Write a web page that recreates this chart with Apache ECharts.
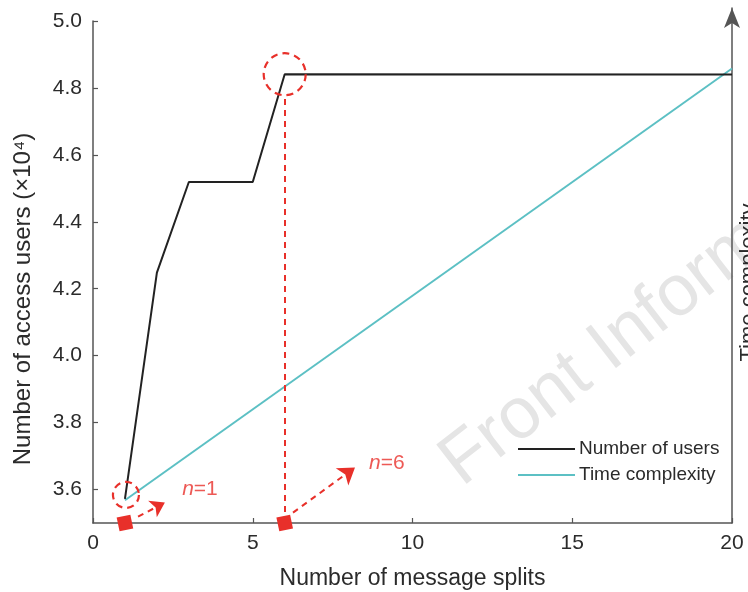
<!DOCTYPE html>
<html>
<head>
<meta charset="utf-8">
<title>Access users vs. message splits</title>
<script src="https://cdn.jsdelivr.net/npm/echarts@6/dist/echarts.min.js"></script>
<style>
  html, body { margin: 0; padding: 0; background: #ffffff; }
  #chart { width: 748px; height: 592px; }
</style>
</head>
<body>
<div id="chart"></div>
<script>
// Number of access users (x10^4) against the number of message splits
const splits = [1, 2, 3, 5, 6, 20];
const accessUsers = [3.572, 4.248, 4.519, 4.519, 4.841, 4.840];

// Time complexity grows linearly with the number of splits (relative units)
const complexitySplits = [1, 20];
const timeComplexity = [1, 20];

// Axis ticks
const xTicks = [0, 5, 10, 15, 20];
const yTicks = [3.6, 3.8, 4.0, 4.2, 4.4, 4.6, 4.8, 5.0];

// Split counts singled out in the figure
const highlighted = [1, 6];

const seriesNames = ['Number of users', 'Time complexity'];

const FONT = '"Liberation Sans", Arial, Helvetica, sans-serif';
const RED = '#e8302a';
const AXIS = '#555555';
const TEXT = '#2b2b2b';
const CYAN = '#5cc0c4';
const Y_MIN = 3.5;

const userAt = n => accessUsers[splits.indexOf(n)];

const chart = echarts.init(document.getElementById('chart'), null, { renderer: 'canvas' });

chart.setOption({
  animation: false,
  backgroundColor: '#ffffff',
  textStyle: { fontFamily: FONT },
  grid: [
    { left: 93, right: 16, top: 21, bottom: 69, containLabel: false, outerBoundsMode: 'none' },
    // the complexity axis rises a little above the plot and ends in an arrow
    { left: 93, right: 16, top: 8, bottom: 69, containLabel: false, outerBoundsMode: 'none' }
  ],
  xAxis: [
    {
      gridIndex: 0, type: 'value', min: xTicks[0], max: xTicks[xTicks.length - 1], interval: 5,
      name: 'Number of message splits', nameLocation: 'middle', nameGap: 44,
      nameTextStyle: { fontSize: 23, color: TEXT, fontFamily: FONT },
      axisLine: { show: true, onZero: false, lineStyle: { color: AXIS, width: 1.5 } },
      axisTick: { show: true, inside: true, length: 5, lineStyle: { color: AXIS, width: 1.2 } },
      axisLabel: { fontSize: 21, color: TEXT, margin: 10, fontFamily: FONT,
                   customValues: xTicks },
      splitLine: { show: false }
    },
    {
      gridIndex: 1, type: 'value', min: xTicks[0], max: xTicks[xTicks.length - 1], show: false
    }
  ],
  yAxis: [
    {
      gridIndex: 0, type: 'value', min: Y_MIN, max: yTicks[yTicks.length - 1],
      name: 'Number of access users (×10⁴)', nameLocation: 'middle', nameGap: 58,
      nameTextStyle: { fontSize: 24, color: TEXT, fontFamily: FONT, padding: [0, 54, 0, 0] },
      axisLine: { show: true, onZero: false, lineStyle: { color: AXIS, width: 1.5 } },
      axisTick: { show: true, inside: true, length: 5, customValues: yTicks,
                  lineStyle: { color: AXIS, width: 1.2 } },
      axisLabel: { fontSize: 21, color: TEXT, margin: 11, fontFamily: FONT,
                   customValues: yTicks, formatter: v => v.toFixed(1) },
      splitLine: { show: false }
    },
    {
      gridIndex: 1, type: 'value', position: 'right', min: 0, max: 22.66,
      name: 'Time complexity', nameLocation: 'middle', nameGap: 6,
      nameTextStyle: { fontSize: 22, color: TEXT, fontFamily: FONT, padding: [0, 34, 0, 0] },
      axisLine: { show: true, onZero: false, symbol: ['none', 'arrow'], symbolSize: [12, 20],
                  lineStyle: { color: AXIS, width: 1.5 } },
      axisTick: { show: false },
      axisLabel: { show: false },
      splitLine: { show: false }
    }
  ],
  legend: {
    data: seriesNames,
    orient: 'vertical',
    left: 518, top: 438, padding: 0,
    icon: 'rect',
    itemWidth: 57, itemHeight: 2, itemGap: 4,
    textStyle: { fontSize: 19, lineHeight: 22, color: TEXT, fontFamily: FONT, padding: [0, 0, 0, -1] }
  },
  graphic: [
    {
      type: 'text', x: 472, y: 500, rotation: 0.66, z: -10, silent: true,
      style: {
        text: 'Front Inform Technol Electron Eng',
        fontSize: 72, fontFamily: FONT, fill: '#e5e5e5',
        verticalAlign: 'bottom', align: 'left'
      }
    }
  ],
  series: [
    {
      name: seriesNames[0], type: 'line', xAxisIndex: 0, yAxisIndex: 0,
      data: splits.map((n, i) => [n, accessUsers[i]]),
      symbol: 'none', lineStyle: { color: '#222222', width: 2 }, itemStyle: { color: '#222222' },
      z: 3
    },
    {
      name: seriesNames[1], type: 'line', xAxisIndex: 1, yAxisIndex: 1,
      data: complexitySplits.map((n, i) => [n, timeComplexity[i]]),
      symbol: 'none', lineStyle: { color: CYAN, width: 2 }, itemStyle: { color: CYAN },
      z: 2
    },
    // dashed rings around the highlighted operating points
    {
      name: 'rings', type: 'scatter', xAxisIndex: 0, yAxisIndex: 0, clip: false, silent: true,
      data: [
        { value: [highlighted[0], userAt(highlighted[0])], symbolSize: 26, symbolOffset: [1, -4] },
        { value: [highlighted[1], userAt(highlighted[1])], symbolSize: 42, symbolOffset: [0, 0] }
      ],
      symbol: 'circle',
      itemStyle: { color: 'rgba(0,0,0,0)', borderColor: RED, borderWidth: 2.2,
                   borderType: [7, 5], opacity: 1 },
      z: 4
    },
    // red markers on the x axis with dashed guides and arrows
    {
      name: 'markers', type: 'scatter', xAxisIndex: 0, yAxisIndex: 0, clip: false, silent: true,
      data: highlighted.map(n => [n, Y_MIN]),
      symbol: 'rect', symbolSize: 14, symbolRotate: 12,
      itemStyle: { color: RED, opacity: 1 },
      z: 5,
      markLine: {
        silent: true, symbol: 'none', animation: false,
        label: { show: false },
        lineStyle: { color: RED, width: 2, type: [6, 5], opacity: 1 },
        data: [
          [{ coord: [highlighted[1], Y_MIN] }, { coord: [highlighted[1], 4.78] }],
          [{ coord: [1.41, 3.519], symbol: 'none' },
           { coord: [2.25, 3.561], symbol: 'arrow', symbolSize: [14, 14] }],
          [{ coord: [6.26, 3.531], symbol: 'none' },
           { coord: [8.2, 3.666], symbol: 'arrow', symbolSize: [16, 16] }]
        ]
      }
    },
    // n labels
    {
      name: 'labels', type: 'scatter', xAxisIndex: 0, yAxisIndex: 0, clip: false, silent: true,
      symbolSize: 0,
      data: [
        { value: [2.79, 3.60], n: highlighted[0] },
        { value: [8.64, 3.68], n: highlighted[1] }
      ],
      label: {
        show: true, position: 'right', distance: 0,
        formatter: p => '{i|n}{t|=' + p.data.n + '}',
        rich: {
          i: { fontSize: 21, fontStyle: 'italic', color: RED, fontFamily: FONT },
          t: { fontSize: 21, color: RED, fontFamily: FONT }
        }
      },
      z: 5
    }
  ]
});
</script>
</body>
</html>
